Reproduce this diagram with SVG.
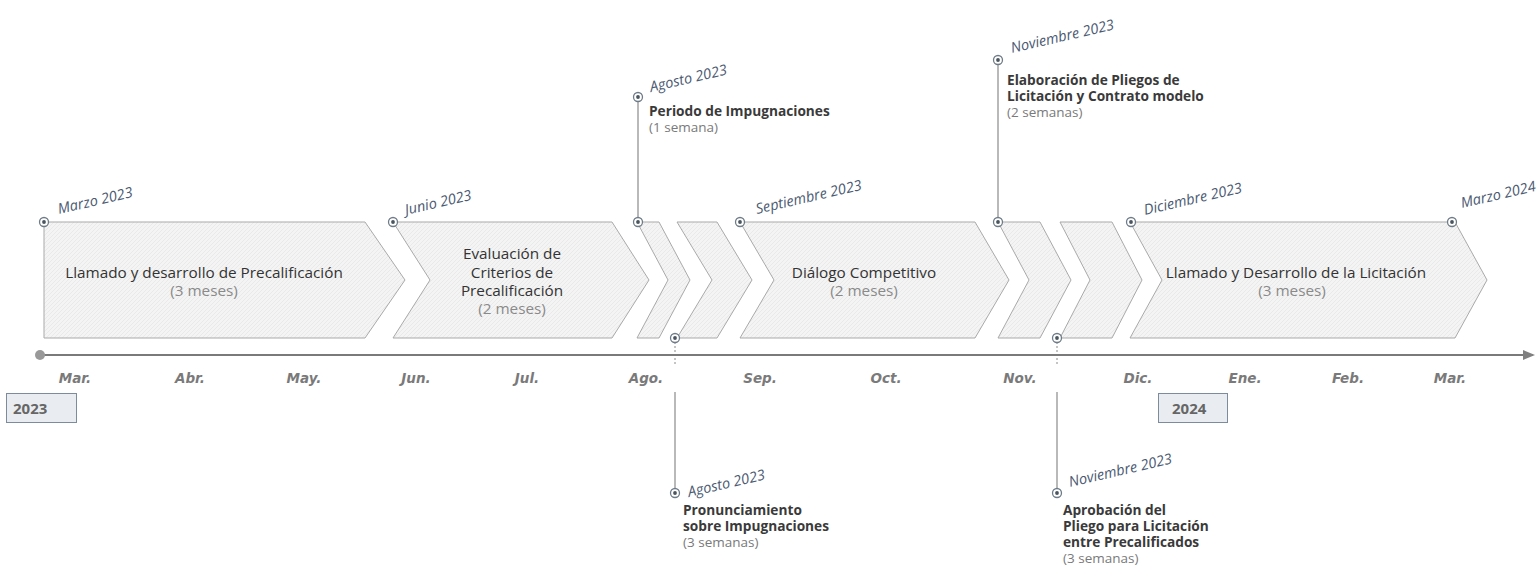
<svg xmlns="http://www.w3.org/2000/svg" width="1538" height="567" viewBox="0 0 1538 567">
<defs>
<pattern id="tex" width="4" height="4" patternUnits="userSpaceOnUse">
<rect width="4" height="4" fill="#f4f4f4"/>
<path d="M0,4 L4,0" stroke="#e6e6e6" stroke-width="0.8"/>
</pattern>
<marker id="arr" markerWidth="12" markerHeight="10" refX="10" refY="5" orient="auto" markerUnits="userSpaceOnUse">
<path d="M0,0 L12,5 L0,10 Z" fill="#808080"/>
</marker>
<g id="pin">
<circle r="4.5" fill="#fff" stroke="#6e7b88" stroke-width="1.3"/>
<circle r="1.9" fill="#4a5560"/>
</g>
</defs>
<style>
.chev{fill:url(#tex);stroke:#a9a9a9;stroke-width:1}
.title{font-family:"Open Sans",sans-serif;font-size:15.3px;fill:#333;text-anchor:middle}
.dur{font-family:"Open Sans",sans-serif;font-size:15.3px;fill:#8a8a8a;text-anchor:middle}
.date{font-family:"Open Sans",sans-serif;font-style:italic;font-size:14.5px;fill:#4b5a72}
.month{font-family:"DejaVu Sans",sans-serif;font-style:italic;font-weight:bold;font-size:13.5px;fill:#7a7a7a;text-anchor:middle}
.lab{font-family:"Open Sans",sans-serif;font-weight:bold;font-size:13.7px;fill:#3a3a3a}
.labd{font-family:"Open Sans",sans-serif;font-size:13.5px;fill:#7a7a7a}
.year{font-family:"Open Sans",sans-serif;font-weight:bold;font-size:15px;fill:#666}
.vline{stroke:#8a8a8a;stroke-width:1.2;fill:none}
.dash{stroke:#8a8a8a;stroke-width:1;stroke-dasharray:2 2;fill:none}
</style>

<g id="connectors">
<line class="vline" x1="638" y1="101" x2="638" y2="218"/>
<line class="vline" x1="998" y1="64" x2="998" y2="218"/>
<line class="dash" x1="675" y1="342" x2="675" y2="364"/>
<line class="dash" x1="1057" y1="342" x2="1057" y2="364"/>
<line class="vline" x1="675" y1="392" x2="675" y2="489"/>
<line class="vline" x1="1057" y1="392" x2="1057" y2="489"/>
</g>

<g id="axis">
<line x1="40" y1="355" x2="1533" y2="355" stroke="#7a7a7a" stroke-width="2" marker-end="url(#arr)"/>
<circle cx="40" cy="355" r="5" fill="#999"/>
<text class="month" x="75" y="383">Mar.</text>
<text class="month" x="190" y="383">Abr.</text>
<text class="month" x="304" y="383">May.</text>
<text class="month" x="416" y="383">Jun.</text>
<text class="month" x="527" y="383">Jul.</text>
<text class="month" x="646" y="383">Ago.</text>
<text class="month" x="760" y="383">Sep.</text>
<text class="month" x="886" y="383">Oct.</text>
<text class="month" x="1020" y="383">Nov.</text>
<text class="month" x="1138" y="383">Dic.</text>
<text class="month" x="1245" y="383">Ene.</text>
<text class="month" x="1348" y="383">Feb.</text>
<text class="month" x="1450" y="383">Mar.</text>
</g>

<g id="year2023">
<rect x="6.5" y="393.5" width="70" height="29" fill="#e9edf1" stroke="#7d8c9c" stroke-width="1"/>
<text class="year" x="13" y="414">2023</text>
</g>
<g id="year2024">
<rect x="1158.5" y="393.5" width="69" height="29" fill="#e9edf1" stroke="#7d8c9c" stroke-width="1"/>
<text class="year" x="1172" y="414">2024</text>
</g>

<g id="phase1">
<polygon class="chev" points="44,222 365,222 405,280 365,338 44,338"/>
<text class="title" x="204" y="278">Llamado y desarrollo de Precalificación</text>
<text class="dur" x="204" y="296">(3 meses)</text>
</g>
<g id="phase2">
<polygon class="chev" points="393,222 612,222 649,280 612,338 393,338 430,280"/>
<text class="title" x="512" y="259">Evaluación de</text>
<text class="title" x="512" y="278">Criterios de</text>
<text class="title" x="512" y="296">Precalificación</text>
<text class="dur" x="512" y="314">(2 meses)</text>
</g>
<g id="phase3">
<polygon class="chev" points="637,222 659,222 690,280 659,338 637,338 668,280"/>
</g>
<g id="phase4">
<polygon class="chev" points="677,222 717,222 752,280 717,338 677,338 712,280"/>
</g>
<g id="phase5">
<polygon class="chev" points="740,222 975,222 1009,280 975,338 740,338 774,280"/>
<text class="title" x="864" y="278">Diálogo Competitivo</text>
<text class="dur" x="864" y="296">(2 meses)</text>
</g>
<g id="phase6">
<polygon class="chev" points="998,222 1040,222 1071,280 1040,338 998,338 1029,280"/>
</g>
<g id="phase7">
<polygon class="chev" points="1060,222 1112,222 1142,280 1112,338 1060,338 1090,280"/>
</g>
<g id="phase8">
<polygon class="chev" points="1130,222 1455,222 1487,280 1455,338 1130,338 1162,280"/>
<text class="title" x="1296" y="278">Llamado y Desarrollo de la Licitación</text>
<text class="dur" x="1292" y="296">(3 meses)</text>
</g>

<g id="pins">
<use href="#pin" x="44" y="222"/>
<use href="#pin" x="393" y="222"/>
<use href="#pin" x="638" y="222"/>
<use href="#pin" x="740" y="222"/>
<use href="#pin" x="998" y="222"/>
<use href="#pin" x="1131" y="222"/>
<use href="#pin" x="1452" y="222"/>
<use href="#pin" x="638" y="97"/>
<use href="#pin" x="998" y="60"/>
<use href="#pin" x="675" y="338"/>
<use href="#pin" x="1057" y="338"/>
<use href="#pin" x="675" y="493"/>
<use href="#pin" x="1057" y="493"/>
</g>

<g id="dates">
<text class="date" transform="translate(59,214) rotate(-13)">Marzo 2023</text>
<text class="date" transform="translate(406,215) rotate(-13)">Junio 2023</text>
<text class="date" transform="translate(651,92) rotate(-13)">Agosto 2023</text>
<text class="date" transform="translate(757,214) rotate(-13)">Septiembre 2023</text>
<text class="date" transform="translate(1012,53) rotate(-13)">Noviembre 2023</text>
<text class="date" transform="translate(1145,215) rotate(-13)">Diciembre 2023</text>
<text class="date" transform="translate(1462,208) rotate(-13)">Marzo 2024</text>
<text class="date" transform="translate(689,497) rotate(-13)">Agosto 2023</text>
<text class="date" transform="translate(1070,487) rotate(-13)">Noviembre 2023</text>
</g>

<g id="event-impugnaciones">
<text class="lab" x="649" y="116">Periodo de Impugnaciones</text>
<text class="labd" x="649" y="132">(1 semana)</text>
</g>
<g id="event-pliegos">
<text class="lab" x="1007" y="85">Elaboración de Pliegos de</text>
<text class="lab" x="1007" y="101">Licitación y Contrato modelo</text>
<text class="labd" x="1007" y="117">(2 semanas)</text>
</g>
<g id="event-pronunciamiento">
<text class="lab" x="683" y="515">Pronunciamiento</text>
<text class="lab" x="683" y="531">sobre Impugnaciones</text>
<text class="labd" x="683" y="547">(3 semanas)</text>
</g>
<g id="event-aprobacion">
<text class="lab" x="1063" y="515">Aprobación del</text>
<text class="lab" x="1063" y="531">Pliego para Licitación</text>
<text class="lab" x="1063" y="547">entre Precalificados</text>
<text class="labd" x="1063" y="563">(3 semanas)</text>
</g>
</svg>
